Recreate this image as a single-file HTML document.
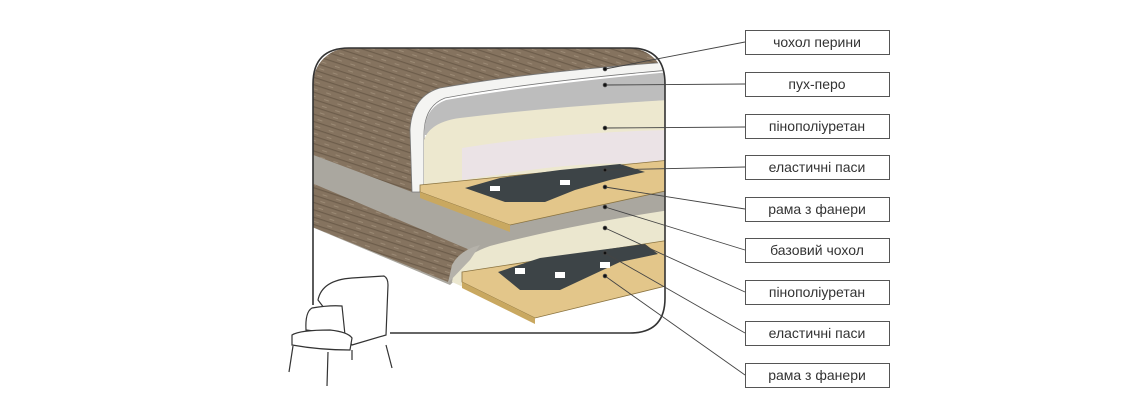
<!DOCTYPE html>
<html><head><meta charset="utf-8"><style>
html,body{margin:0;padding:0;background:#fff;width:1146px;height:420px;overflow:hidden}
svg{display:block}
text{font-family:"Liberation Sans","DejaVu Sans",sans-serif;font-size:14px;fill:#333}
</style></head><body>
<svg width="1146" height="420" viewBox="0 0 1146 420" xmlns="http://www.w3.org/2000/svg">
<defs>
<pattern id="wood" width="14" height="7" patternUnits="userSpaceOnUse" patternTransform="rotate(18)">
<rect width="14" height="7" fill="#85735f"/>
<rect y="4" width="14" height="1.2" fill="#6d5d4b"/>
<rect x="3" y="1" width="5" height="1" fill="#9b8a75"/>
</pattern>
<clipPath id="fr"><rect x="313" y="48" width="352" height="286" rx="36"/></clipPath>
</defs>
<g clip-path="url(#fr)">
<!-- grey base -->
<polygon points="300,140 670,140 670,232 480,256 450,285 300,222" fill="#aaa79f"/>
<!-- upper wood -->
<path d="M300,40 L670,40 L670,62 Q520,75 440,90 Q412,100 410,130 L412,192 L300,150 Z" fill="url(#wood)"/>
<!-- lower wood strip -->
<polygon points="300,178 470,250 455,260 448,282 300,222" fill="url(#wood)"/>
<!-- white cover -->
<path d="M412,192 L410,130 Q412,96 440,88 Q530,72 670,62 L670,70 Q530,82 445,98 Q424,106 424,135 L424,192 Z" fill="#f4f4f2" stroke="#777" stroke-width="0.8"/>
<!-- down feather -->
<path d="M424,135 Q424,108 446,100 Q540,84 670,72 L670,100 Q560,108 470,118 Q445,122 438,135 Z" fill="#bdbdbd"/>
<!-- foam -->
<path d="M424,190 L424,140 Q430,122 460,118 Q560,106 670,100 L670,165 L430,192 Z" fill="#ede8cf"/>
<!-- pink -->
<path d="M462,148 Q560,132 670,130 L670,165 Q600,160 530,170 L462,180 Z" fill="#ebe3e6"/>
<!-- upper plywood -->
<polygon points="420,185 670,160 670,190 510,225 420,192" fill="#e3c68a" stroke="#8a7340" stroke-width="0.8"/>
<polygon points="420,192 510,225 510,232 420,198" fill="#c9a860"/>
<!-- upper straps -->
<path d="M465,188 L500,178 L560,170 L620,164 L645,172 L610,180 L575,190 L545,202 L505,202 Z" fill="#3d4447"/>
<rect x="490" y="186" width="10" height="5" fill="#fff"/><rect x="560" y="180" width="10" height="5" fill="#fff"/>
<!-- lower foam -->
<path d="M452,282 Q455,258 490,246 Q570,225 670,210 L670,260 L470,290 Z" fill="#ebe7cf"/>
<path d="M448,283 L452,265 Q460,250 480,245 L470,260 Z" fill="#b5b2aa"/>
<!-- lower plywood -->
<polygon points="462,272 670,240 670,285 535,318 462,282" fill="#e3c68a" stroke="#8a7340" stroke-width="0.8"/>
<polygon points="462,282 535,318 535,324 462,288" fill="#c9a860"/>
<!-- lower straps -->
<path d="M498,272 L540,258 L600,250 L645,244 L658,254 L620,262 L590,276 L560,290 L520,290 Z" fill="#3d4447"/>
<rect x="515" y="268" width="10" height="6" fill="#fff"/><rect x="555" y="272" width="10" height="6" fill="#fff"/><rect x="600" y="262" width="10" height="6" fill="#fff"/>
</g>
<path d="M390,333 L630,333 Q665,333 665,298 L665,84 Q665,48 630,48 L349,48 Q313,48 313,84 L313,305" fill="none" stroke="#333" stroke-width="1.6"/>
<!-- chair -->
<g fill="#fff" stroke="#333" stroke-width="1.2">
<path d="M318,300 Q322,280 352,278 L384,276 Q388,278 388,285 L386,335 L352,345 Z"/>
<path d="M306,330 Q305,312 312,308 Q330,305 342,306 L345,335 Z"/>
<path d="M292,335 Q300,330 330,330 Q348,332 352,338 L350,350 Q320,350 292,345 Z"/>
<line x1="293" y1="346" x2="289" y2="372"/><line x1="328" y1="352" x2="327" y2="386"/><line x1="386" y1="345" x2="392" y2="368"/><line x1="352" y1="350" x2="352" y2="360"/>
</g>
<!-- leader lines -->
<g stroke="#444" stroke-width="0.9" fill="#111">
<line x1="605" y1="69" x2="745" y2="42"/>
<line x1="605" y1="85" x2="745" y2="84"/>
<line x1="605" y1="128" x2="745" y2="127"/>
<line x1="605" y1="170" x2="745" y2="167"/>
<line x1="605" y1="187" x2="745" y2="209"/>
<line x1="605" y1="207" x2="745" y2="250"/>
<line x1="605" y1="228" x2="745" y2="292"/>
<line x1="605" y1="253" x2="745" y2="333"/>
<line x1="605" y1="276" x2="745" y2="375"/>
<circle cx="605" cy="69" r="1.8"/><circle cx="605" cy="85" r="1.8"/><circle cx="605" cy="128" r="1.8"/><circle cx="605" cy="170" r="1.8"/><circle cx="605" cy="187" r="1.8"/><circle cx="605" cy="207" r="1.8"/><circle cx="605" cy="228" r="1.8"/><circle cx="605" cy="253" r="1.8"/><circle cx="605" cy="276" r="1.8"/>
</g>
<g fill="#fff" stroke="#555" stroke-width="1">
<rect x="745.5" y="30.5" width="144" height="24"/>
<rect x="745.5" y="72.5" width="144" height="24"/>
<rect x="745.5" y="114.5" width="144" height="24"/>
<rect x="745.5" y="155.5" width="144" height="24"/>
<rect x="745.5" y="197.5" width="144" height="24"/>
<rect x="745.5" y="238.5" width="144" height="24"/>
<rect x="745.5" y="280.5" width="144" height="24"/>
<rect x="745.5" y="321.5" width="144" height="24"/>
<rect x="745.5" y="363.5" width="144" height="24"/>
</g>
<g text-anchor="middle">
<text x="817" y="47">чохол перини</text>
<text x="817" y="89">пух-перо</text>
<text x="817" y="131">пінополіуретан</text>
<text x="817" y="172">еластичні паси</text>
<text x="817" y="214">рама з фанери</text>
<text x="817" y="255">базовий чохол</text>
<text x="817" y="297">пінополіуретан</text>
<text x="817" y="338">еластичні паси</text>
<text x="817" y="380">рама з фанери</text>
</g>
</svg>
</body></html>
